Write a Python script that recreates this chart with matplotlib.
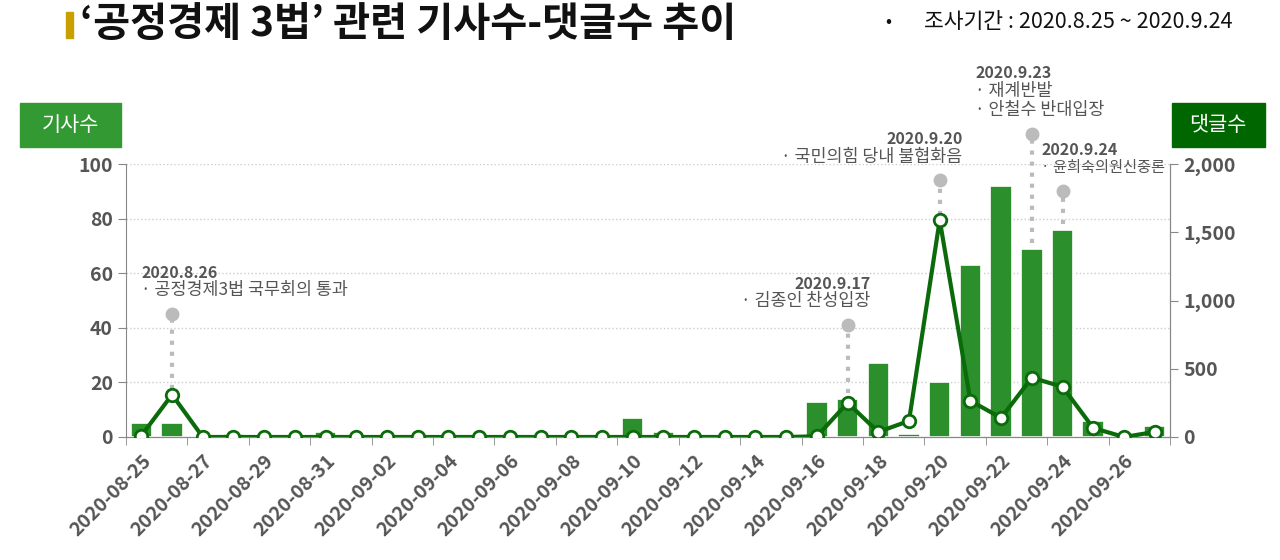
import numpy as np
import pandas as pd
import matplotlib.pyplot as plt
from matplotlib.patches import Rectangle

plt.rcParams['font.family'] = ['Noto Sans CJK KR', 'DejaVu Sans']

dates = pd.date_range('2020-08-25', '2020-09-27').strftime('%Y-%m-%d').tolist()
articles = [5, 5, 0, 1, 0, 0, 2, 0, 0, 0, 0, 0, 0, 0, 0, 0, 7, 2, 0, 0, 0, 0,
            13, 14, 27, 1, 20, 63, 92, 69, 76, 6, 0, 4]
comments = [10, 310, 0, 0, 0, 0, 0, 0, 0, 0, 0, 0, 0, 0, 0, 0, 0, 0, 0, 0, 0, 0,
            5, 250, 37, 118, 1590, 265, 140, 434, 368, 66, 0, 37]

# (date, head line, bullet lines, dot height on article axis, text x offset, align, bullet size)
notes = [
    ('2020-08-26', '2020.8.26', ['· 공정경제3법 국무회의 통과'], 45, -1.0, 'left', 12.5),
    ('2020-09-17', '2020.9.17', ['· 김종인 찬성입장'], 41, 0.75, 'right', 12.5),
    ('2020-09-20', '2020.9.20', ['· 국민의힘 당내 불협화음'], 94, 0.75, 'right', 12.5),
    ('2020-09-23', '2020.9.23', ['· 재계반발', '· 안철수 반대입장'], 111, -1.85, 'left', 12.5),
    ('2020-09-24', '2020.9.24', ['· 윤희숙의원신중론'], 90, -0.7, 'left', 11),
]

bar_color = '#2b8f2b'
line_color = '#0b6b0b'
gray = '#555555'

fig = plt.figure(figsize=(12.8, 5.6), dpi=100)
ax = fig.add_axes([126 / 1280, 1 - 437 / 560, (1170 - 126) / 1280, (437 - 164) / 560])
ax2 = ax.twinx()

x = np.arange(len(dates))
ax.bar(x, articles, width=0.7, color=bar_color, edgecolor='white', linewidth=1.2, zorder=2)
ax.set_ylim(0, 100)
ax.set_xlim(-0.45, len(dates) - 0.55)
ax.set_yticks(range(0, 101, 20))
ax.grid(axis='y', color='#cccccc', linestyle=':', linewidth=1)
ax.set_axisbelow(True)

ax2.plot(x, comments, color=line_color, linewidth=3, marker='o', markersize=9,
         markerfacecolor='white', markeredgecolor=line_color, markeredgewidth=2, zorder=4)
ax2.set_ylim(0, 2000)
ax2.set_yticks(range(0, 2001, 500))
ax2.set_yticklabels([f'{v:,}' for v in range(0, 2001, 500)])

for a in (ax, ax2):
    a.spines['top'].set_visible(False)
    for s in ('left', 'right', 'bottom'):
        a.spines[s].set_color('#888888')
    a.tick_params(axis='y', colors='#888888', labelcolor=gray, labelsize=14, length=6)
for lab in ax.get_yticklabels() + ax2.get_yticklabels():
    lab.set_fontweight('bold')
ax2.spines['left'].set_visible(False)

ax.set_xticks(x[::2])
ax.set_xticklabels(dates[::2], rotation=45, ha='right', rotation_mode='anchor',
                   fontsize=14, fontweight='bold', color=gray)
ax.set_xticks(np.arange(-0.5, len(dates), 2), minor=True)
ax.tick_params(axis='x', which='major', length=0, pad=10)
ax.tick_params(axis='x', which='minor', length=6, color='#888888')

# annotations
for d, head, lines, top, dx, align, fs in notes:
    i = dates.index(d)
    base = max(articles[i], comments[i] / 20)
    ax.plot([i, i], [base + 2, top], color='#bbbbbb', linestyle=':', linewidth=3,
            zorder=3, clip_on=False)
    ax.plot(i, top, 'o', color='#bbbbbb', markersize=9, zorder=3, clip_on=False)
    tx = i + dx
    y0 = top + 5 + 7.2 * len(lines)
    ax.text(tx, y0, head, ha=align, va='bottom', fontsize=11.5, fontweight='bold',
            color=gray, clip_on=False)
    for k, ln in enumerate(lines):
        ax.text(tx, y0 - 7.2 * k - 0.2, ln, ha=align, va='top', fontsize=fs,
                color=gray, clip_on=False)

# header
fig.patches.append(Rectangle((66 / 1280, 1 - 38 / 560), 7 / 1280, 26 / 560,
                             transform=fig.transFigure, color='#c9a000'))
fig.text(80 / 1280, 1 - 24 / 560, "‘공정경제 3법’ 관련 기사수-댓글수 추이", fontsize=29,
         fontweight='bold', va='center', ha='left', color='#111111')
fig.text(885 / 1280, 1 - 22 / 560, '•', fontsize=13, va='center', color='#111111')
fig.text(924 / 1280, 1 - 22 / 560, '조사기간 : 2020.8.25 ~ 2020.9.24', fontsize=15.5,
         va='center', color='#111111')

# axis title boxes
fig.patches.append(Rectangle((20 / 1280, 1 - 147 / 560), 101 / 1280, 44 / 560,
                             transform=fig.transFigure, color='#339933'))
fig.text(70 / 1280, 1 - 125 / 560, '기사수', fontsize=15, color='white', ha='center', va='center')
fig.patches.append(Rectangle((1172 / 1280, 1 - 147 / 560), 93 / 1280, 44 / 560,
                             transform=fig.transFigure, color='#006600'))
fig.text(1218 / 1280, 1 - 125 / 560, '댓글수', fontsize=15, color='white', ha='center', va='center')

fig.savefig('out.png', dpi=100)
